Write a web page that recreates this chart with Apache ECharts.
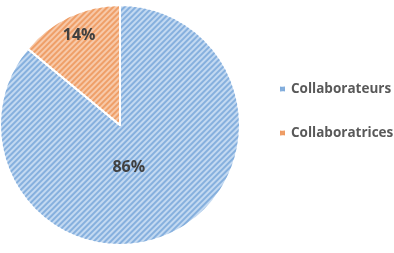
<!DOCTYPE html>
<html><head><meta charset="utf-8">
<script src="https://cdn.jsdelivr.net/npm/echarts@6/dist/echarts.min.js"></script>
<style>html,body{margin:0;padding:0;background:#fff}#c{width:394px;height:253px}</style>
</head><body><div id="c"></div>
<script>
const categories = ['Collaborateurs', 'Collaboratrices'];
const values = [86, 14];
const baseColors = ['#c3d9f1', '#f7c9a9'];
const stripeColors = ['#86b0de', '#ef9f68'];
const iconColors = ['#7fabdb', '#ee9960'];
const labelShift = [[-18, -15], [-14, -33]];

const chart = echarts.init(document.getElementById('c'), null, {renderer: 'canvas'});
chart.setOption({
  animation: false,
  aria: {enabled: false},
  legend: {
    orient: 'vertical',
    left: 273, top: 77,
    itemWidth: 7, itemHeight: 7, itemGap: 30,
    icon: 'rect',
    textStyle: {color: '#595959', fontSize: 13.5, fontWeight: 'bold', fontFamily: 'Open Sans'},
    data: categories.map((n, i) => ({name: n, itemStyle: {color: iconColors[i], decal: null}}))
  },
  series: [{
    type: 'pie',
    center: [120, 125],
    radius: [0, 120],
    startAngle: 90,
    clockwise: true,
    label: {
      show: true, position: 'inside',
      formatter: '{d}%',
      color: '#404040', fontSize: 16, fontWeight: 'bold', fontFamily: 'Open Sans'
    },
    labelLine: {show: false},
    labelLayout: function (p) { return {dx: labelShift[p.dataIndex][0], dy: labelShift[p.dataIndex][1]}; },
    itemStyle: {borderColor: '#fff', borderWidth: 2},
    data: categories.map((n, i) => ({
      name: n, value: values[i],
      itemStyle: {
        color: baseColors[i],
        decal: {symbol: 'rect', symbolSize: 1, dashArrayX: [1, 0], dashArrayY: [1.2, 2], rotation: -Math.PI / 4, color: stripeColors[i]}
      }
    }))
  }]
});
</script></body></html>
